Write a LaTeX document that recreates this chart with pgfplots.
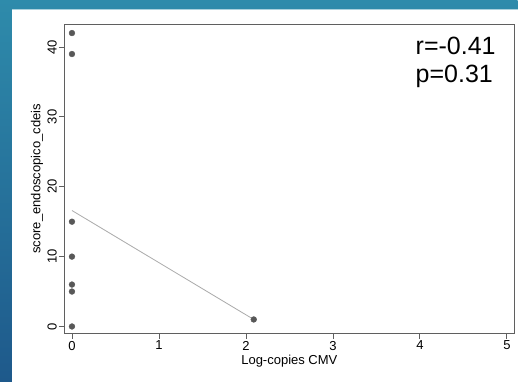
\documentclass[border=0pt]{standalone}
\usepackage{fontspec}
\setmainfont{Liberation Sans}
\usepackage{pgfplots}
\pgfplotsset{compat=1.18}
\definecolor{bgtop}{RGB}{46,139,171}
\definecolor{bgbot}{RGB}{30,89,139}
\definecolor{ptcol}{RGB}{88,88,88}
\definecolor{fitcol}{RGB}{170,170,170}
\definecolor{framecol}{RGB}{95,95,95}
\newcommand{\lblfont}{\fontsize{13}{15}\selectfont}
\begin{document}
\begin{tikzpicture}[x=1pt,y=1pt]
\shade[top color=bgtop, bottom color=bgbot] (0,0) rectangle (518,382);
\fill[white] (12,0) rectangle (518,373);
\draw[line width=0.6pt, color=bgtop!40!white] (12,373) -- (518,373);
\begin{axis}[
  at={(64pt,48pt)}, anchor=south west,
  scale only axis, width=451pt, height=310pt,
  xmin=-0.092, xmax=5.09, ymin=-1.05, ymax=43.3,
  xtick={0,1,2,3,4,5}, ytick={0,10,20,30,40},
  tick pos=left, tick align=outside, major tick length=5pt,
  axis line style={color=framecol, line width=0.8pt},
  every tick/.style={color=framecol, line width=0.8pt},
  /pgf/number format/assume math mode=true,
  yticklabel style={font=\lblfont, color=black, rotate=90, anchor=south, inner sep=2pt},
  xticklabel style={font=\lblfont, color=black, inner sep=2pt},
  xlabel={Log-copies CMV},
  ylabel={score\_endoscopico\_cdeis},
  every axis x label/.style={font=\lblfont, at={(axis description cs:0.5,-0.089)}, anchor=center},
  every axis y label/.style={font=\lblfont, at={(axis description cs:-0.060,0.5)}, rotate=90, anchor=center},
  clip=false,
]
\addplot[color=fitcol, line width=0.8pt] coordinates {(0,16.6) (2.09,1.0)};
\addplot[only marks, mark=*, mark size=2.9pt, color=ptcol] coordinates {
(0,42) (0,39) (0,15) (0,10) (0,6) (0,5) (0,0) (2.09,1.0)};
\node[anchor=base west, inner sep=0pt, font=\fontsize{25}{29}\selectfont] at (axis cs:3.95,38.9) {r=-0.41};
\node[anchor=base west, inner sep=0pt, font=\fontsize{25}{29}\selectfont] at (axis cs:3.95,34.9) {p=0.31};
\end{axis}
\end{tikzpicture}
\end{document}
